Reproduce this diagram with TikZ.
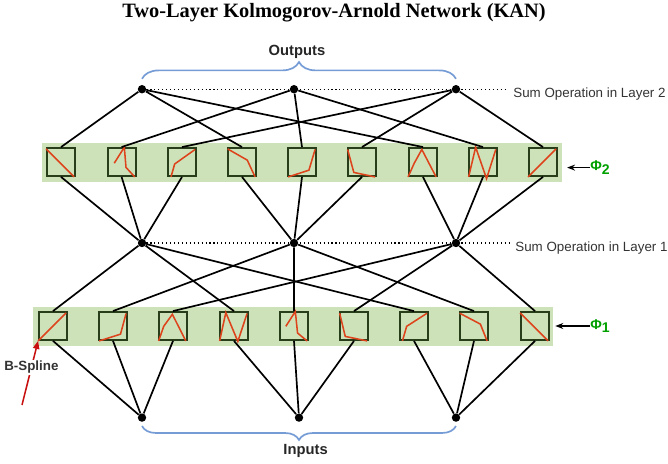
\documentclass[tikz,border=0pt]{standalone}
\usepackage{fontspec}
\setmainfont{Liberation Serif}
\setsansfont{Liberation Sans}
\usepackage{tikz}
\usetikzlibrary{
    arrows.meta,
    positioning,
    calc,
    decorations.pathreplacing
}
\usepackage{xcolor}
\definecolor{bandgreen}{RGB}{206,226,186}
\definecolor{boxgreen}{RGB}{40,62,26}
\definecolor{splinered}{RGB}{221,68,28}
\definecolor{phigreen}{RGB}{0,160,0}
\definecolor{braceblue}{RGB}{118,156,214}
\definecolor{arrowred}{RGB}{200,16,16}
\definecolor{labelgray}{RGB}{51,51,51}

% red B-spline drawn inside a box node (unit square = box)
\newcommand{\splinein}[2]{%
  \begin{scope}[shift={(#1.south west)}, x=0.7cm, y=0.7cm]
    \draw[splinepath] #2;
  \end{scope}}

\begin{document}
\begin{tikzpicture}[
    x=1cm, y=1cm,
    band/.style={rectangle, fill=bandgreen, minimum width=13cm, minimum height=0.975cm},
    phibox/.style={rectangle, draw=boxgreen, line width=1.3pt, minimum size=0.7cm, inner sep=0pt},
    sumdot/.style={circle, fill=black, inner sep=0pt, minimum size=0.21cm},
    link/.style={line width=1.2pt},
    splinepath/.style={splinered, line width=1.1pt},
    sumline/.style={dotted, line width=0.8pt},
    sumlabel/.style={font=\sffamily\fontsize{9.5}{11}\selectfont, text=labelgray},
    iolabel/.style={font=\sffamily\bfseries\fontsize{10.5}{12}\selectfont, text=black!85},
    iobrace/.style={decorate, decoration={brace, amplitude=#1}, braceblue, line width=1.2pt},
    philabel/.style={font=\sffamily\bfseries\fontsize{10}{12}\selectfont, text=phigreen, inner sep=0pt},
    arrow/.style={-{Stealth[length=2mm]}, line width=1.2pt},
    splarrow/.style={-{Triangle[length=2mm, width=1.6mm]}, arrowred, line width=1.1pt}
]
\useasboundingbox (0,0) rectangle (16.7,11.6);

% === TITLE ===
\node[font=\bfseries\fontsize{14.5}{17}\selectfont, anchor=base] (title) at (8.35, 11.15) {Two-Layer Kolmogorov-Arnold Network (KAN)};

% === BANDS ===
\node[band] (phitwo) at (7.55, 7.5375) {};
\node[band] (phione) at (7.325, 3.4375) {};

% === SUM NODES ===
\node[sumdot] (out1) at (3.55, 9.37) {};
\node[sumdot] (out2) at (7.35, 9.37) {};
\node[sumdot] (out3) at (11.4, 9.37) {};
\node[sumdot] (hid1) at (3.55, 5.525) {};
\node[sumdot] (hid2) at (7.35, 5.525) {};
\node[sumdot] (hid3) at (11.4, 5.525) {};
\node[sumdot] (in1) at (3.55, 1.16) {};
\node[sumdot] (in2) at (7.475, 1.16) {};
\node[sumdot] (in3) at (11.4, 1.16) {};

% === PHI_2 BOXES (layer 2) ===
\node[phibox] (b1) at (1.525, 7.55) {};
\node[phibox] (b2) at (3.04, 7.55) {};
\node[phibox] (b3) at (4.55, 7.55) {};
\node[phibox] (b4) at (6.05, 7.55) {};
\node[phibox] (b5) at (7.55, 7.55) {};
\node[phibox] (b6) at (9.05, 7.55) {};
\node[phibox] (b7) at (10.575, 7.55) {};
\node[phibox] (b8) at (12.075, 7.55) {};
\node[phibox] (b9) at (13.575, 7.55) {};

% === PHI_1 BOXES (layer 1) ===
\node[phibox] (a1) at (1.325, 3.45) {};
\node[phibox] (a2) at (2.825, 3.45) {};
\node[phibox] (a3) at (4.325, 3.45) {};
\node[phibox] (a4) at (5.85, 3.45) {};
\node[phibox] (a5) at (7.35, 3.45) {};
\node[phibox] (a6) at (8.85, 3.45) {};
\node[phibox] (a7) at (10.35, 3.45) {};
\node[phibox] (a8) at (11.85, 3.45) {};
\node[phibox] (a9) at (13.375, 3.45) {};

% Splines in Phi_2
\splinein{b1}{(0,1) -- (1,0)}
\splinein{b2}{(0.27,0.49) -- (0.63,1.06) -- (0.69,0.34) -- (1,0)}
\splinein{b3}{(0.14,0) -- (0.27,0.46) -- (1,0.98)}
\splinein{b4}{(0.02,1) -- (0.72,0.6) -- (1,0)}
\splinein{b5}{(0.04,0) -- (0.78,0.24) -- (1,0.98)}
\splinein{b6}{(0.02,0.98) -- (0.24,0.16) -- (1,0)}
\splinein{b7}{(0,0) -- (0.22,0.49) -- (0.49,0.98) -- (1,0)}
\splinein{b8}{(0.02,0) -- (0.27,1.06) -- (0.66,-0.06) -- (0.99,0.98)}
\splinein{b9}{(0,0) -- (1,1)}

% Splines in Phi_1
\splinein{a1}{(0,0) -- (1,1)}
\splinein{a2}{(0.04,0) -- (0.8,0.24) -- (1,0.98)}
\splinein{a3}{(0.02,0) -- (0.2,0.52) -- (0.51,0.95) -- (0.99,0)}
\splinein{a4}{(0.02,0) -- (0.24,1.01) -- (0.67,-0.02) -- (1,0.98)}
\splinein{a5}{(0.24,0.52) -- (0.58,1.05) -- (0.66,0.28) -- (1,0)}
\splinein{a6}{(0.02,0.99) -- (0.22,0.16) -- (1,0)}
\splinein{a7}{(0.12,0) -- (0.27,0.52) -- (1,0.99)}
\splinein{a8}{(0.02,0.99) -- (0.76,0.6) -- (1,0)}
\splinein{a9}{(0,1) -- (1,0)}

% === CONNECTIONS ===
% inputs -> Phi_1
\draw[link] (in1) -- (a1.south) (in1) -- (a2.south) (in1) -- (a3.south);
\draw[link] (in2) -- (a4.south) (in2) -- (a5.south) (in2) -- (a6.south);
\draw[link] (in3) -- (a7.south) (in3) -- (a8.south) (in3) -- (a9.south);
% Phi_1 -> layer 1 sums
\draw[link] (a1.north) -- (hid1) (a4.north) -- (hid1) (a7.north) -- (hid1);
\draw[link] (a2.north) -- (hid2) (a5.north) -- (hid2) (a8.north) -- (hid2);
\draw[link] (a3.north) -- (hid3) (a6.north) -- (hid3) (a9.north) -- (hid3);
% layer 1 sums -> Phi_2
\draw[link] (hid1) -- (b1.south) (hid1) -- (b2.south) (hid1) -- (b3.south);
\draw[link] (hid2) -- (b4.south) (hid2) -- (b5.south) (hid2) -- (b6.south);
\draw[link] (hid3) -- (b7.south) (hid3) -- (b8.south) (hid3) -- (b9.south);
% Phi_2 -> outputs
\draw[link] (b1.north) -- (out1) (b4.north) -- (out1) (b7.north) -- (out1);
\draw[link] (b2.north) -- (out2) (b5.north) -- (out2) (b8.north) -- (out2);
\draw[link] (b3.north) -- (out3) (b6.north) -- (out3) (b9.north) -- (out3);

% === SUM OPERATION LABELS ===
\node[sumlabel, anchor=base west] (sumtwo) at (12.71, 9.16) {Sum Operation in Layer 2};
\node[sumlabel, anchor=base west] (sumone) at (12.76, 5.3) {Sum Operation in Layer 1};
\draw[sumline] (out1) -- (out1 -| sumtwo.west);
\draw[sumline] (hid1) -- (hid1 -| sumone.west);

% === OUTPUTS / INPUTS ===
\node[iolabel, anchor=base] (outputs) at (7.425, 10.2) {Outputs};
\node[iolabel, anchor=base] (inputs) at (7.64, 0.23) {Inputs};
\draw[iobrace=0.42cm] ([yshift=0.26cm]out1.center) -- ([yshift=0.26cm]out3.center);
\draw[iobrace=0.35cm] ([yshift=-0.21cm]in3.center) -- ([yshift=-0.21cm]in1.center);

% === PHI LABELS ===
\node[philabel, anchor=west] (phitwolab) at (14.75, 7.41) {Φ\raisebox{-0.5ex}{2}};
\node[philabel, anchor=west] (phionelab) at (14.75, 3.45) {Φ\raisebox{-0.5ex}{1}};
\draw[arrow, shorten >=0.12cm] (phitwolab.west) -- (phitwolab.west -| phitwo.east);
\draw[arrow, shorten >=0.05cm] (phionelab.west) -- (phionelab.west -| phione.east);

% B-Spline pointer
\coordinate (bstail) at (0.55, 1.475);
\draw[splarrow] (bstail) -- node[pos=0.585, fill=white, inner sep=1pt, font=\sffamily\bfseries\fontsize{9.5}{11}\selectfont, text=labelgray] (bsplab) {B-Spline} (a1.south west);

\end{tikzpicture}
\end{document}
